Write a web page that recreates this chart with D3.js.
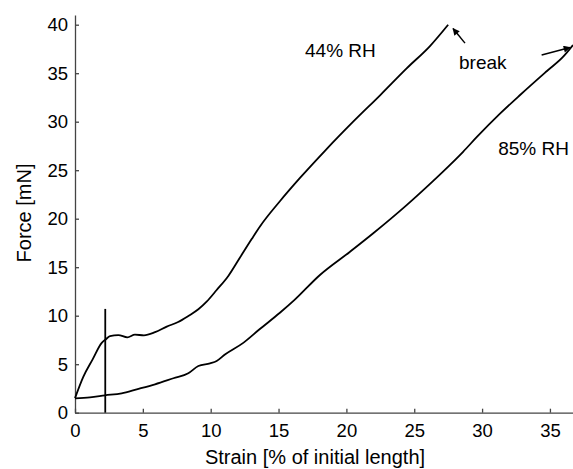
<html>
<head>
<style>
  body { margin: 0; background: #fff; }
  text { font-family: "Liberation Sans", Arial, Helvetica, sans-serif; fill: #000; }
</style>
</head>
<body>
<svg id="container" width="573" height="469"></svg>
<script src="https://cdn.jsdelivr.net/npm/d3@7"></script>
<script>
// 44% RH curve
let strain44 = [0, 0.61, 1.3, 1.97, 2.26, 2.58, 3.19, 3.86, 4.42, 5.08, 5.9, 6.76, 7.6, 8.35, 9.09, 9.7, 10.44, 11.3, 12.16, 13.02, 13.63, 15.1, 16.58, 18.42, 20.5, 22.5, 24.44, 26.16, 27.5]
let force44 = [1.5, 3.7, 5.5, 7.2, 7.55, 7.9, 8.0, 7.77, 8.04, 7.98, 8.3, 8.87, 9.35, 9.97, 10.66, 11.45, 12.65, 14.1, 16.0, 17.9, 19.2, 21.8, 24.2, 27.0, 30.0, 32.75, 35.5, 37.8, 40.0]

// 85% RH curve
let strain85 = [0, 1.1, 2.21, 3.44, 4.55, 5.9, 7.25, 8.35, 9.09, 9.95, 10.44, 11.05, 12.4, 13.6, 15.1, 16.16, 18.05, 20.27, 21.98, 24.44, 26.4, 27.6, 28.6, 29.6, 31.3, 32.8, 34.76, 35.98, 36.7]
let force85 = [1.48, 1.59, 1.79, 2.0, 2.41, 2.93, 3.55, 4.06, 4.81, 5.09, 5.33, 6.0, 7.2, 8.6, 10.3, 11.6, 14.2, 16.6, 18.5, 21.4, 23.9, 25.5, 26.9, 28.4, 30.8, 32.75, 35.2, 36.7, 37.9]

// vertical marker line
let markerStrain = 2.23
let markerForce = [0, 10.7]

let xTicks = [0, 5, 10, 15, 20, 25, 30, 35]
let yTicks = [0, 5, 10, 15, 20, 25, 30, 35, 40]

// annotations (data coords)
let labelText = ["44% RH", "break", "85% RH"]
let labelX = [16.95, 28.3, 31.19]
let labelY = [36.67, 35.4, 26.57]

// arrows: tail -> head
let arrowFrom = [[28.74, 38.1], [34.39, 36.87]]
let arrowTo = [[27.86, 39.6], [36.48, 37.65]]

let svg = d3.select("#container")

let x = d3.scaleLinear().domain([0, 36.7]).range([75, 573])
let y = d3.scaleLinear().domain([0, 41]).range([412.7, 15])

svg.append("defs").append("marker")
    .attr("id", "head")
    .attr("viewBox", "0 0 10 10")
    .attr("refX", 9).attr("refY", 5)
    .attr("markerWidth", 9).attr("markerHeight", 7)
    .attr("markerUnits", "userSpaceOnUse")
    .attr("orient", "auto")
  .append("path")
    .attr("d", "M0,0 L10,5 L0,10 z")
    .attr("fill", "#000")

// axes
svg.append("g")
    .attr("transform", "translate(0," + y(0) + ")")
    .call(d3.axisBottom(x).tickValues(xTicks).tickSizeInner(-4).tickSizeOuter(0).tickPadding(11))
svg.append("g")
    .attr("transform", "translate(" + x(0) + ",0)")
    .call(d3.axisLeft(y).tickValues(yTicks).tickSizeInner(-4).tickSizeOuter(0).tickPadding(7))

svg.selectAll(".domain, .tick line").attr("stroke", "#444").attr("stroke-width", 1.3)
svg.selectAll(".tick text").attr("font-size", 18.5).attr("fill", "#000")
    .attr("font-family", '"Liberation Sans", Arial, sans-serif')

svg.append("text")
    .attr("x", (x(0) + 573) / 2 - 9).attr("y", 464)
    .attr("text-anchor", "middle").attr("font-size", 20)
    .text("Strain [% of initial length]")

svg.append("text")
    .attr("transform", "translate(31,213) rotate(-90)")
    .attr("text-anchor", "middle").attr("font-size", 20)
    .text("Force [mN]")

// smooth the hand-read points a little, like the original trace
let line = d3.line().x(d => x(d[0])).y(d => y(d[1])).curve(d3.curveMonotoneX)

let curves = [d3.zip(strain44, force44), d3.zip(strain85, force85)]
svg.selectAll(".curve")
    .data(curves)
    .enter()
    .append("path")
    .attr("class", "curve")
    .attr("d", line)
    .attr("fill", "none")
    .attr("stroke", "#000")
    .attr("stroke-width", 1.8)
    .attr("stroke-linejoin", "round")

svg.append("line")
    .attr("x1", x(markerStrain)).attr("x2", x(markerStrain))
    .attr("y1", y(markerForce[0])).attr("y2", y(markerForce[1]))
    .attr("stroke", "#000").attr("stroke-width", 1.8)

svg.selectAll(".lbl")
    .data(labelText)
    .enter()
    .append("text")
    .attr("class", "lbl")
    .attr("x", (d, i) => x(labelX[i]))
    .attr("y", (d, i) => y(labelY[i]))
    .attr("font-size", 19)
    .text(d => d)

svg.selectAll(".arrow")
    .data(arrowFrom)
    .enter()
    .append("line")
    .attr("class", "arrow")
    .attr("x1", d => x(d[0])).attr("y1", d => y(d[1]))
    .attr("x2", (d, i) => x(arrowTo[i][0])).attr("y2", (d, i) => y(arrowTo[i][1]))
    .attr("stroke", "#000").attr("stroke-width", 1.5)
    .attr("marker-end", "url(#head)")
</script>
</body>
</html>
